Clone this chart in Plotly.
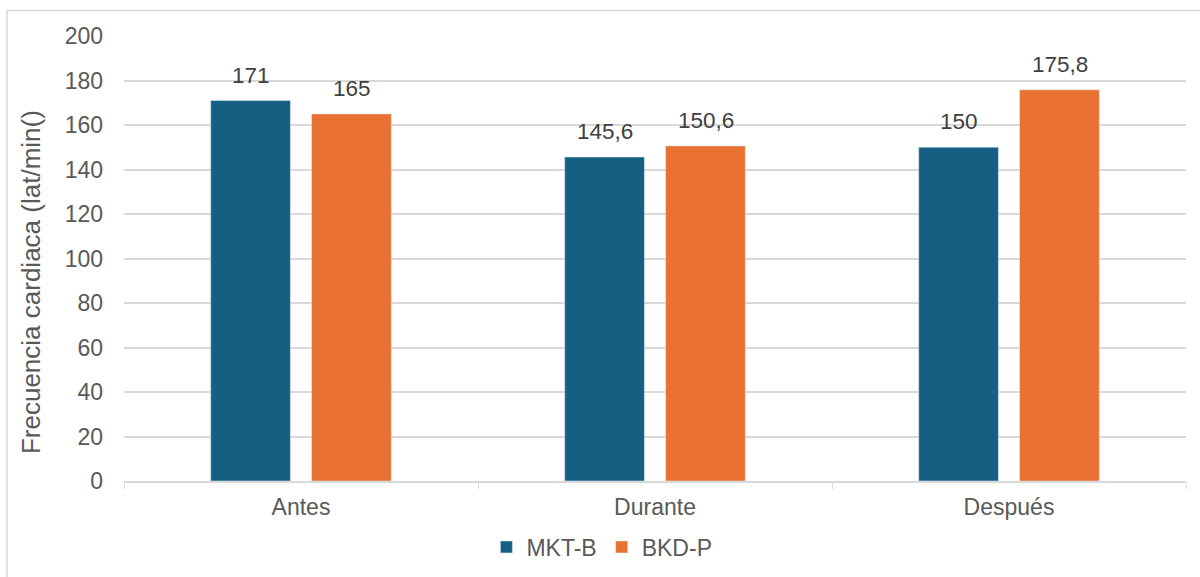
import plotly.graph_objects as go

# Heart-rate measurements per phase for each group
categories = ["Antes", "Durante", "Después"]
mkt_b = [171, 145.6, 150]
bkd_p = [165, 150.6, 175.8]
y_ticks = [0, 20, 40, 60, 80, 100, 120, 140, 160, 180, 200]
y_title = "Frecuencia cardiaca (lat/min()"


def fmt(v):
    s = f"{v:g}"
    return s.replace(".", ",")


TEXT = "#595959"
LABEL = "#404040"
GRID = "#D9D9D9"
FONT = "Liberation Sans, Arial, sans-serif"
SIZE = 23

fig = go.Figure()
fig.add_trace(go.Bar(name="MKT-B", x=categories, y=mkt_b, marker=dict(color="#156082")))
fig.add_trace(go.Bar(name="BKD-P", x=categories, y=bkd_p, marker=dict(color="#E97132")))

# Value labels above each bar, shifted onto the bar of their group
annotations = []
for series, shift in ((mkt_b, -50), (bkd_p, 50.5)):
    for cat, v in zip(categories, series):
        annotations.append(dict(
            x=cat, y=v, xref="x", yref="y", text=fmt(v), showarrow=False,
            xshift=shift, yshift=11, yanchor="bottom",
            font=dict(size=22.5, color=LABEL, family=FONT),
        ))

# Vertical axis title, centred on the chart area
annotations.append(dict(
    x=-0.0876, y=0.447, xref="paper", yref="paper", text=y_title, showarrow=False,
    textangle=-90, xanchor="center", yanchor="middle",
    font=dict(size=26, color=TEXT, family=FONT),
))

fig.update_layout(
    width=1200, height=577,
    paper_bgcolor="white", plot_bgcolor="white",
    font=dict(family=FONT, color=TEXT, size=SIZE),
    margin=dict(l=124, r=14, t=36, b=96, autoexpand=False),
    barmode="group", bargap=0.43, bargroupgap=0.21,
    showlegend=True,
    legend=dict(orientation="h", x=0.45, xanchor="center", y=-0.1, yanchor="top",
                font=dict(size=SIZE, color=TEXT), itemwidth=30, traceorder="normal"),
    xaxis=dict(
        showgrid=False, showline=True, linecolor=GRID, linewidth=1.5,
        ticks="outside", tickson="boundaries", ticklen=6, tickcolor=GRID,
        tickfont=dict(size=SIZE, color=TEXT), ticklabelstandoff=5,
    ),
    yaxis=dict(
        range=[0, 200], tickvals=y_ticks, showgrid=True, gridcolor=GRID, gridwidth=1.5,
        zeroline=False, showline=False, ticks="",
        tickfont=dict(size=SIZE, color=TEXT), ticklabelstandoff=20,
    ),
    annotations=annotations,
    shapes=[dict(
        type="rect", xref="paper", yref="paper",
        x0=(7 - 124) / 1062, x1=(1210 - 124) / 1062,
        y0=-(110 / 445), y1=1 + 25.5 / 445,
        line=dict(color="#D9D9D9", width=1.5), fillcolor="rgba(0,0,0,0)", layer="below",
    )],
)

fig.write_html("out.html")
